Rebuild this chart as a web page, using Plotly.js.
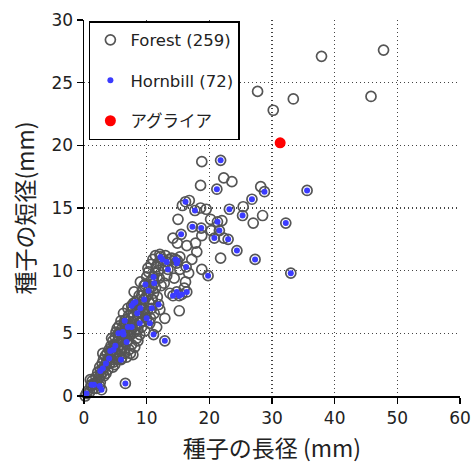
<!DOCTYPE html>
<html><head><meta charset="utf-8">
<script src="https://cdn.plot.ly/plotly-3.0.1.min.js"></script>
<style>html,body{margin:0;padding:0;background:#fff;}#chart{width:474px;height:468px;}</style>
</head><body><div id="chart"></div>
<script>
// Forest species that are not hornbill-dispersed (open circles only)
const forestOnlyX = [
0.2,0.6,0.9,1.1,1.3,1.5,1.8,1.9,2.1,2.2,
2.4,2.5,2.7,2.9,3.0,3.1,3.3,3.4,3.6,3.7,3.8,3.9,4.0,2.6,3.2,
4.1,4.2,4.3,4.4,4.5,4.6,4.7,4.8,4.9,5.0,5.1,5.2,5.3,5.4,5.5,5.6,5.7,5.8,5.9,6.0,5.1,4.4,5.6,
6.1,6.2,6.3,6.4,6.5,6.6,6.7,6.8,6.9,7.0,7.1,7.2,7.3,7.4,7.5,7.6,7.7,7.8,7.9,8.0,6.3,7.0,7.4,
8.1,8.2,8.3,8.4,8.5,8.6,8.7,8.8,8.9,9.0,9.1,9.2,9.3,9.4,9.5,9.6,9.7,9.8,9.9,10.0,8.0,9.0,8.6,
10.1,10.2,10.3,10.4,10.5,10.6,10.7,10.8,10.9,11.0,11.1,11.2,11.3,11.4,11.5,11.6,11.7,11.8,12.0,12.1,12.1,12.3,12.9,10.8,
12.6,13.0,13.6,14.0,15.3,15.3,16.7,17.2,16.2,13.7,15.2,13.2,12.8,14.4,16.0,
15.7,15.0,14.2,14.9,16.4,17.8,18.6,18.8,18.8,18.0,
18.8,22.3,23.6,18.6,28.2,25.4,20.2,28.5,27.0,20.3,22.3,21.8,16.8,19.5,22.0,
37.9,47.8,27.7,33.4,45.8,30.2,
1.0,2.0,3.5,4.6,5.3,6.0,6.6,7.2,7.8,8.4,9.2,9.6,10.4,11.0,11.9,4.9,3.0,5.9,7.5,8.9,10.2,11.4,6.4
];
const forestOnlyY = [
0.0,0.4,0.3,0.8,1.2,0.6,1.0,1.5,1.2,1.9,
1.5,2.3,1.7,2.6,1.9,2.9,2.3,3.2,2.6,3.4,2.1,3.0,3.7,1.1,1.6,
2.6,3.3,4.0,2.9,3.6,4.4,2.7,3.2,4.1,4.7,3.5,2.9,4.3,3.8,4.6,3.2,5.0,4.1,3.6,4.5,5.1,4.6,5.6,
5.4,3.9,4.3,5.8,3.4,4.8,6.1,3.1,5.2,4.4,6.4,3.7,5.6,4.9,6.7,4.1,5.9,3.3,6.3,5.1,6.6,7.0,3.4,
3.9,5.7,6.9,4.6,7.6,5.3,6.2,8.0,4.9,6.6,7.3,5.5,8.4,6.0,7.0,8.8,5.2,6.5,7.9,9.5,8.3,9.1,4.4,
6.8,8.1,9.9,7.4,9.1,6.2,10.5,8.7,7.7,10.9,8.2,6.6,9.8,11.2,10.3,5.5,7.9,10.6,9.4,6.9,11.3,8.8,6.2,7.7,
10.4,11.2,10.9,11.0,11.1,10.1,9.8,10.9,9.1,8.2,6.8,9.6,9.0,9.4,8.6,
15.2,14.1,12.6,12.2,12.0,12.2,15.0,12.8,10.1,11.5,
18.7,17.4,17.1,16.8,16.7,15.1,14.1,14.4,13.8,13.2,12.6,11.0,15.6,14.9,14.0,
27.1,27.6,24.3,23.7,23.9,22.8,
1.3,0.6,1.8,2.3,5.4,3.0,5.6,4.8,7.1,6.0,8.0,6.9,8.6,9.3,10.0,2.5,3.4,6.0,5.3,7.0,10.2,8.6,4.6
];
// Hornbill-dispersed species (also part of the forest set)
const hornbillX = [
21.8,21.2,28.8,35.6,16.2,17.7,23.2,26.8,25.3,32.2,21.3,21.6,17.3,18.7,15.5,20.8,23.0,24.4,27.3,16.3,
19.8,33.0,16.4,12.2,13.2,14.6,14.8,13.4,14.2,14.8,15.2,15.6,11.1,11.2,10.3,9.6,11.9,7.9,7.6,8.9,
10.5,11.1,12.9,7.6,6.2,5.5,6.3,6.8,4.7,4.2,5.9,2.6,6.6,1.6,2.5,2.8,0.4,
10.0,9.0,3.5,3.0,8.5,7.0,12.5,9.8,4.0,5.0,1.2,6.5,8.2,10.8,14.9
];
const hornbillY = [
18.8,16.5,16.3,16.4,15.5,14.8,14.9,15.7,14.4,13.8,13.9,13.2,13.5,13.4,12.9,12.6,12.5,11.6,10.9,10.3,
9.6,9.8,8.3,11.1,10.7,10.9,10.6,10.1,8.0,8.3,8.0,8.1,9.5,9.0,8.4,7.7,7.3,7.4,7.2,5.8,
5.8,4.9,4.4,5.5,5.1,5.0,4.9,4.3,3.7,3.6,2.9,2.0,1.0,0.9,0.8,0.5,0.2,
6.2,7.0,2.6,2.2,6.6,5.5,10.9,8.9,3.0,4.0,0.9,6.0,7.5,7.0,10.8
];
const agX = [31.3];
const agY = [20.2];
const xTicks = [0,10,20,30,40,50,60];
const yTicks = [0,5,10,15,20,25,30];

const forestX = forestOnlyX.concat(hornbillX);
const forestY = forestOnlyY.concat(hornbillY);

const baseFont = "DejaVu Sans, 'Noto Sans CJK JP', sans-serif";
const cjkFont = "'Noto Sans CJK JP', 'DejaVu Sans', sans-serif";

const traces = [
  {x: forestX, y: forestY, type: 'scatter', mode: 'markers', name: 'Forest (259)', legendgroup: 'a',
   cliponaxis: false,
   marker: {symbol: 'circle-open', size: 10, color: '#555555', line: {width: 1.7, color: '#555555'}}},
  {x: hornbillX, y: hornbillY, type: 'scatter', mode: 'markers', name: 'Hornbill (72)', legendgroup: 'b',
   cliponaxis: false,
   marker: {symbol: 'circle', size: 6, color: '#3b3bff'}},
  {x: agX, y: agY, type: 'scatter', mode: 'markers', name: 'アグライア', legendgroup: 'c',
   cliponaxis: false,
   marker: {symbol: 'circle', size: 11, color: '#ff0000'}}
];

const axisCommon = {
  showline: true, linecolor: '#000', linewidth: 1.5,
  ticks: 'outside', ticklen: 6, tickwidth: 1.2, tickcolor: '#000',
  showgrid: true, gridcolor: '#444', griddash: '1.3px,2.7px', gridwidth: 1.3,
  zeroline: false, mirror: false,
  tickfont: {family: baseFont, size: 17, color: '#222'}
};

const layout = {
  width: 474, height: 468,
  margin: {l: 84, r: 14, t: 20, b: 72},
  paper_bgcolor: '#fff', plot_bgcolor: '#fff',
  showlegend: true,
  xaxis: Object.assign({}, axisCommon, {
    range: [0, 60], tickvals: xTicks, ticktext: xTicks.map(String),
    title: {text: '種子の長径 (mm)', font: {family: cjkFont, size: 23, color: '#222'}, standoff: 14}
  }),
  yaxis: Object.assign({}, axisCommon, {
    range: [0, 30], tickvals: yTicks, ticktext: yTicks.map(String),
    title: {text: '種子の短径(mm)', font: {family: cjkFont, size: 23, color: '#222'}, standoff: 10}
  }),
  legend: {
    x: 0.013, y: 0.997, xanchor: 'left', yanchor: 'top',
    bgcolor: '#fff', bordercolor: '#000', borderwidth: 1.5,
    font: {family: baseFont, size: 16.5, color: '#222'},
    traceorder: 'grouped', tracegroupgap: 16
  }
};

Plotly.newPlot('chart', traces, layout, {displayModeBar: false, staticPlot: true});
</script>
</body></html>
